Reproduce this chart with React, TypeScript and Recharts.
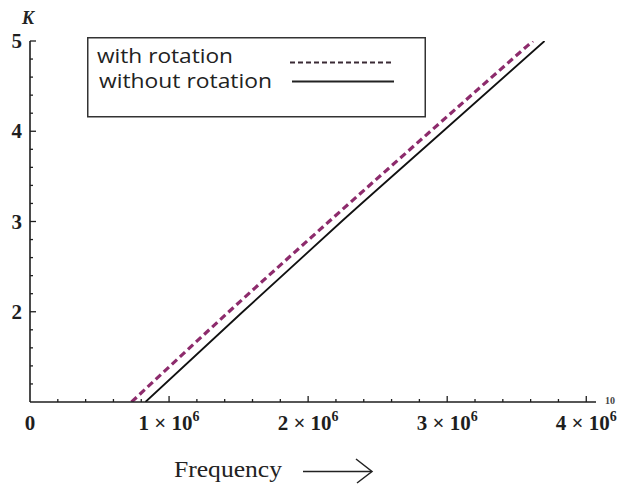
import React from 'react'
import { LineChart, Line, XAxis, YAxis, Legend, Label } from 'recharts'

// frequency axis ticks (minor every 0.2e6, labelled every 1e6)
const freqTicks = [
  0, 200000, 400000, 600000, 800000, 1000000, 1200000, 1400000, 1600000, 1800000, 2000000,
  2200000, 2400000, 2600000, 2800000, 3000000, 3200000, 3400000, 3600000, 3800000, 4000000,
]
const freqLabels = [0, 1000000, 2000000, 3000000, 4000000]

// K axis ticks (minor every 0.2, labelled every 1)
const kTicks = [
  1, 1.2, 1.4, 1.6, 1.8, 2, 2.2, 2.4, 2.6, 2.8, 3,
  3.2, 3.4, 3.6, 3.8, 4, 4.2, 4.4, 4.6, 4.8, 5,
]
const kLabels = [2, 3, 4, 5]

const withRotationFreq = [730000, 1430000, 2150000, 2880000, 3616000]
const withRotationK = [1, 2, 3, 4, 5]
const withoutRotationFreq = [830000, 1530000, 2240000, 2970000, 3700000]
const withoutRotationK = [1, 2, 3, 4, 5]

const withRotation = withRotationFreq.map((f, i) => ({ f, k: withRotationK[i] }))
const withoutRotation = withoutRotationFreq.map((f, i) => ({ f, k: withoutRotationK[i] }))

const INK = '#1e1e1e'
const SERIF = 'Liberation Serif, serif'

function FreqTick({ x, y, payload }: any) {
  const v = payload.value
  const major = freqLabels.includes(v)
  return (
    <g>
      {v > 0 && (
        <line x1={x} y1={y} x2={x} y2={y - (major ? 6 : 3)} stroke={INK} strokeWidth={1.3} />
      )}
      {major && (
        <text x={x} y={y + 28} textAnchor="middle" fontFamily={SERIF} fontWeight="bold" fontSize={21} fill={INK}>
          {v === 0 ? '0' : (
            <>
              {`${v / 1000000} × 10`}<tspan dy={-9} fontSize={14}>6</tspan>
            </>
          )}
        </text>
      )}
    </g>
  )
}

function KTick({ x, y, payload }: any) {
  const v = payload.value
  const major = Math.abs(v - Math.round(v)) < 1e-6
  return (
    <g>
      {v > 1 && (
        <line x1={x} y1={y} x2={x + (major ? 6 : 3)} y2={y} stroke={INK} strokeWidth={1.3} />
      )}
      {kLabels.includes(v) && (
        <text x={x - 8} y={y + 7} textAnchor="end" fontFamily={SERIF} fontWeight="bold" fontSize={21} fill={INK}>
          {v}
        </text>
      )}
    </g>
  )
}

function LegendBox({ payload }: any) {
  const items = payload || []
  return (
    <svg width={339} height={81} style={{ display: 'block' }}>
      <rect x={0.75} y={0.75} width={337.5} height={79} fill="#fff" stroke="#333" strokeWidth={1.5} />
      <text x={10} y={26} fontFamily='"Open Sans", sans-serif' fontSize={20} fill="#222"
        textLength={136} lengthAdjust="spacingAndGlyphs">
        {items[0]?.value ?? 'with rotation'}
      </text>
      <text x={12} y={51} fontFamily='"Open Sans", sans-serif' fontSize={20} fill="#222"
        textLength={173} lengthAdjust="spacingAndGlyphs">
        {items[1]?.value ?? 'without rotation'}
      </text>
      <line x1={203} y1={25.5} x2={304} y2={25.5} stroke="#3a2a35" strokeWidth={2} strokeDasharray="5 3" />
      <line x1={205} y1={44.5} x2={307} y2={44.5} stroke="#222" strokeWidth={2} />
    </svg>
  )
}

export default function App() {
  return (
    <div style={{ position: 'absolute', left: 0, top: 0, width: 620, height: 486, background: '#fff' }}>
      <LineChart width={620} height={486} margin={{ top: 41, right: 24, bottom: 83, left: 0 }}>
        <XAxis
          dataKey="f"
          type="number"
          domain={[0, 4070000]}
          allowDataOverflow
          ticks={freqTicks}
          interval={0}
          height={1}
          tickSize={0}
          tickMargin={0}
          tick={<FreqTick />}
          axisLine={{ stroke: INK, strokeWidth: 1.6 }}
        >
          <Label
            content={() => (
              <g>
                <text x={174} y={477} fontFamily={SERIF} fontSize={24} fill="#222"
                  textLength={108} lengthAdjust="spacingAndGlyphs">Frequency</text>
                <line x1={303} y1={471.5} x2={371} y2={471.5} stroke="#222" strokeWidth={1.5} />
                <path d="M356,459 L372,471.5 L357,483" fill="none" stroke="#222" strokeWidth={1.5} />
                <text x={605} y={404} fontFamily={SERIF} fontWeight="bold" fontSize={10} fill="#444">10</text>
              </g>
            )}
          />
        </XAxis>
        <YAxis
          dataKey="k"
          type="number"
          domain={[1, 5]}
          allowDataOverflow
          ticks={kTicks}
          interval={0}
          width={30}
          tickSize={0}
          tickMargin={0}
          tick={<KTick />}
          axisLine={{ stroke: INK, strokeWidth: 1.6 }}
        >
          <Label
            content={() => (
              <text x={28} y={24} textAnchor="middle" fontFamily={SERIF} fontStyle="italic"
                fontWeight="bold" fontSize={18} fill="#222">K</text>
            )}
          />
        </YAxis>
        <Legend
          layout="vertical"
          verticalAlign="middle"
          align="center"
          content={<LegendBox />}
          wrapperStyle={{ left: 87, top: 37, width: 339, height: 81 }}
        />
        <Line
          data={withRotation}
          dataKey="k"
          name="with rotation"
          type="monotone"
          stroke="#8d2b6c"
          strokeWidth={3.2}
          strokeDasharray="7 4"
          dot={false}
          isAnimationActive={false}
        />
        <Line
          data={withoutRotation}
          dataKey="k"
          name="without rotation"
          type="monotone"
          stroke="#111"
          strokeWidth={1.8}
          dot={false}
          isAnimationActive={false}
        />
      </LineChart>
    </div>
  )
}
